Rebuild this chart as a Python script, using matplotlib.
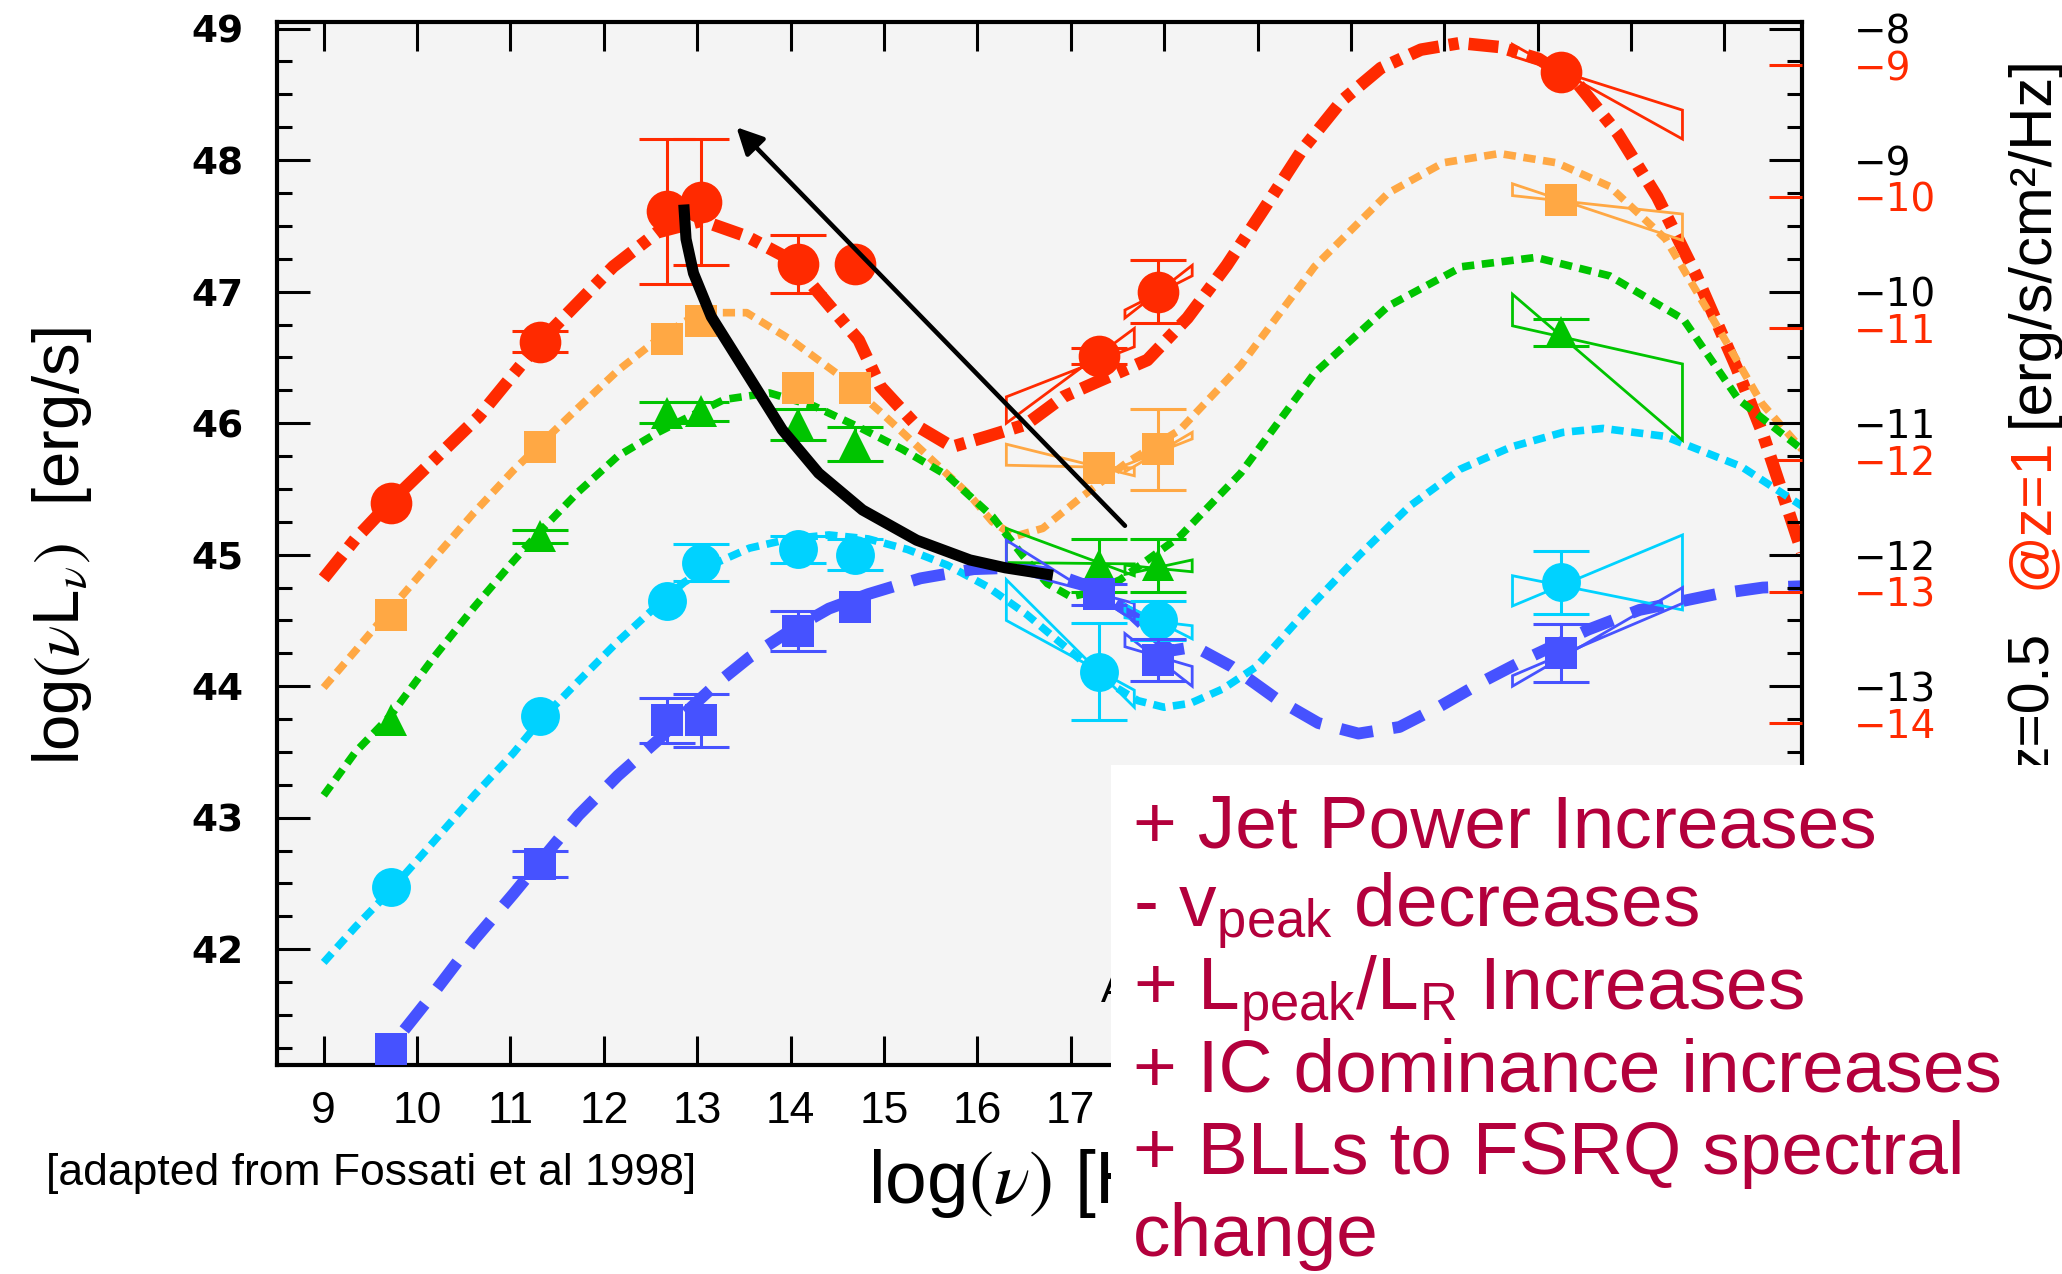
import numpy as np
import matplotlib
matplotlib.use("Agg")
import matplotlib.pyplot as plt
from matplotlib.patches import Rectangle, Polygon

plt.rcParams['font.family'] = ['Liberation Sans', 'DejaVu Sans']
plt.rcParams['mathtext.fontset'] = 'custom'
plt.rcParams['mathtext.rm'] = 'Liberation Sans'
plt.rcParams['mathtext.it'] = 'Liberation Sans:italic'

# observed bands, log(nu)
nu_obs = [9.72, 11.32, 12.68, 13.04, 14.08, 14.69, 17.30, 17.93, 22.25]

red_L = [45.39, 46.62, 47.61, 47.68, 47.21, 47.21, 46.51, 47.00, 48.67]
red_err = [0, 0.08, 0.55, 0.48, 0.22, 0, 0.06, 0.24, 0]
orange_L = [44.54, 45.82, 46.64, 46.78, 46.27, 46.27, 45.66, 45.80, 47.70]
orange_err = [0, 0, 0, 0, 0, 0, 0, 0.31, 0]
green_L = [43.74, 45.14, 46.08, 46.09, 45.99, 45.84, 44.92, 44.92, 46.69]
green_err = [0, 0.05, 0.08, 0.07, 0.12, 0.13, 0.20, 0.20, 0.10]
cyan_L = [42.47, 43.77, 44.65, 44.94, 45.04, 45.00, 44.11, 44.50, 44.79]
cyan_err = [0, 0, 0, 0.14, 0.10, 0.12, 0.37, 0.15, 0.24]
blue_L = [41.24, 42.65, 43.74, 43.74, 44.42, 44.60, 44.70, 44.20, 44.25]
blue_err = [0, 0.10, 0.17, 0.20, 0.15, 0, 0.08, 0.16, 0.22]

# model SED curves
red_x = [9.00, 9.34, 9.70, 10.18, 10.66, 11.33, 12.10, 12.57, 13.05, 13.53, 14.01, 14.30,
         14.73, 14.96, 15.35, 15.73, 16.11, 16.52, 16.92, 17.30, 17.82, 18.25, 18.67, 19.06,
         19.48, 19.90, 20.32, 20.75, 21.17, 21.59, 22.01, 22.44, 22.86, 23.28, 23.70, 24.13,
         24.41, 24.62, 24.83]
red_y = [44.82, 45.12, 45.39, 45.72, 46.05, 46.63, 47.19, 47.45, 47.54, 47.42, 47.24, 46.99,
         46.63, 46.28, 45.98, 45.82, 45.90, 45.99, 46.20, 46.32, 46.48, 46.80, 47.20, 47.62,
         48.08, 48.45, 48.70, 48.84, 48.89, 48.86, 48.77, 48.57, 48.20, 47.72, 47.12, 46.42,
         45.92, 45.47, 45.02]

orange_x = [9.00, 9.34, 9.72, 10.18, 10.61, 11.03, 11.32, 11.73, 12.15, 12.58, 12.86, 13.05,
            13.53, 14.01, 14.49, 14.97, 15.44, 15.92, 16.16, 16.40, 16.70, 17.10, 17.60, 18.17,
            18.82, 19.61, 20.40, 20.99, 21.59, 22.20, 22.77, 23.37, 23.96, 24.40, 24.83]
orange_y = [43.99, 44.27, 44.59, 44.97, 45.32, 45.64, 45.84, 46.12, 46.40, 46.64, 46.77, 46.84,
            46.84, 46.63, 46.38, 46.08, 45.77, 45.45, 45.25, 45.14, 45.20, 45.43, 45.70, 45.95,
            46.44, 47.19, 47.75, 47.98, 48.05, 47.98, 47.80, 47.40, 46.69, 46.15, 45.80]

green_x = [9.00, 9.34, 9.72, 10.18, 10.61, 11.03, 11.32, 11.73, 12.15, 12.58, 12.86, 13.29,
           13.77, 14.25, 14.73, 15.20, 15.68, 16.16, 16.50, 16.75, 17.00, 17.25, 17.53, 18.17,
           18.82, 19.61, 20.40, 21.19, 21.98, 22.77, 23.56, 24.15, 24.83]
green_y = [43.17, 43.50, 43.78, 44.22, 44.60, 44.95, 45.18, 45.48, 45.75, 45.93, 46.03, 46.18,
           46.23, 46.13, 45.97, 45.80, 45.60, 45.29, 44.98, 44.78, 44.68, 44.72, 44.81, 45.14,
           45.62, 46.38, 46.89, 47.19, 47.26, 47.12, 46.79, 46.18, 45.80]

cyan_x = [9.00, 9.34, 9.72, 10.18, 10.61, 11.03, 11.32, 11.73, 12.15, 12.58, 12.86, 13.21,
          13.56, 13.99, 14.41, 14.83, 15.25, 15.68, 16.10, 16.52, 16.94, 17.37, 17.72, 18.00,
          18.28, 18.63, 18.99, 19.53, 20.08, 20.63, 21.17, 21.72, 22.27, 22.70, 23.36, 24.18,
          24.83]
cyan_y = [41.90, 42.17, 42.45, 42.82, 43.17, 43.49, 43.74, 44.04, 44.34, 44.62, 44.79, 44.94,
          45.05, 45.12, 45.15, 45.12, 45.04, 44.92, 44.76, 44.55, 44.30, 44.04, 43.89, 43.84,
          43.87, 43.98, 44.15, 44.58, 44.99, 45.37, 45.65, 45.82, 45.93, 45.96, 45.90, 45.67,
          45.37]

blue_x = [9.55, 9.72, 10.18, 10.61, 11.03, 11.32, 11.73, 12.15, 12.58, 12.86, 13.21, 13.56,
          13.99, 14.41, 14.83, 15.39, 15.96, 16.38, 16.80, 17.23, 17.65, 18.07, 18.33, 18.72,
          19.21, 19.65, 20.08, 20.52, 20.96, 21.45, 21.94, 22.54, 23.09, 23.91, 24.41, 24.83]
blue_y = [41.05, 41.26, 41.67, 42.07, 42.42, 42.67, 43.02, 43.32, 43.59, 43.79, 44.02, 44.22,
          44.42, 44.59, 44.70, 44.82, 44.89, 44.90, 44.86, 44.75, 44.55, 44.27, 44.30, 44.15,
          43.90, 43.72, 43.64, 43.69, 43.85, 44.05, 44.23, 44.43, 44.58, 44.70, 44.75, 44.76]

# spectral bow-ties: (x_left, x_right, y_left1, y_right1, y_left2, y_right2)
red_bt = [(16.31, 17.68, 46.20, 46.58, 46.00, 46.72),
          (17.58, 18.30, 46.86, 47.12, 46.80, 47.20),
          (21.73, 23.55, 48.88, 48.16, 48.79, 48.38)]
orange_bt = [(16.31, 17.68, 45.84, 45.60, 45.68, 45.66),
             (17.58, 18.30, 45.68, 45.88, 45.63, 45.93),
             (21.73, 23.55, 47.82, 47.39, 47.73, 47.59)]
green_bt = [(16.31, 17.68, 45.20, 44.84, 44.94, 44.93),
            (17.58, 18.30, 44.92, 44.87, 44.85, 44.96),
            (21.73, 23.55, 46.98, 45.87, 46.74, 46.45)]
cyan_bt = [(16.31, 17.68, 44.81, 43.84, 44.50, 43.97),
           (17.58, 18.30, 44.62, 44.36, 44.52, 44.46),
           (21.73, 23.55, 44.84, 44.58, 44.61, 45.15)]
blue_bt = [(16.31, 17.68, 45.11, 44.50, 44.89, 44.63),
           (17.58, 18.30, 44.40, 44.00, 44.30, 44.15),
           (21.73, 23.55, 44.08, 44.63, 44.00, 44.75)]

# black trend curve and arrow
trend_x = [12.86, 12.88, 12.96, 13.15, 13.53, 13.91, 14.30, 14.77, 15.35, 15.92, 16.30, 16.75]
trend_y = [47.62, 47.40, 47.14, 46.81, 46.38, 45.95, 45.62, 45.34, 45.11, 44.96, 44.90, 44.85]
arrow_tail = (17.58, 45.22)
arrow_head = (13.42, 48.25)

x_ticks = list(range(9, 25))
x_ticklabels = [str(v) if v <= 17 else '' for v in x_ticks]
left_ticks = list(range(42, 50))
black_right_labels = ['\u2212%d' % (57 - v) if v >= 44 else '' for v in left_ticks]
red_right_pos = [48.72 - k for k in range(8)]
red_right_labels = ['\u2212%d' % (9 + k) if k <= 5 else '' for k in range(8)]

box_lines = ["+ Jet Power Increases",
             r"- v$_{\mathrm{peak}}$ decreases",
             r"+ L$_{\mathrm{peak}}$/L$_{\mathrm{R}}$ Increases",
             "+ IC dominance increases",
             "+ BLLs to FSRQ spectral",
             "change"]

RED = '#ff2a00'
ORANGE = '#ffa844'
GREEN = '#00c400'
CYAN = '#00d2ff'
BLUE = '#4652ff'

W, H = 2062, 1274
fig = plt.figure(figsize=(W / 100, H / 100), dpi=100)
ax = fig.add_axes([277 / W, 1 - 1065 / H, (1802 - 277) / W, (1065 - 22) / H])
ax.set_facecolor('#f4f4f4')
ax.set_xlim(8.5, 24.83)
ax.set_ylim(41.12, 49.05)

dots = (0, (1.6, 1.0))
ax.plot(red_x, red_y, color=RED, lw=9, ls=(0, (2.4, 0.8, 0.8, 0.8)), zorder=2)
ax.plot(orange_x, orange_y, color=ORANGE, lw=5.5, ls=dots, zorder=2)
ax.plot(green_x, green_y, color=GREEN, lw=5.5, ls=dots, zorder=2)
ax.plot(cyan_x, cyan_y, color=CYAN, lw=5.5, ls=dots, zorder=2)
ax.plot(blue_x, blue_y, color=BLUE, lw=8.5, ls=(0, (2.8, 1.7)), zorder=2)

series = [(red_L, red_err, RED, 'o', 30, red_bt),
          (orange_L, orange_err, ORANGE, 's', 23, orange_bt),
          (green_L, green_err, GREEN, '^', 23, green_bt),
          (cyan_L, cyan_err, CYAN, 'o', 28, cyan_bt),
          (blue_L, blue_err, BLUE, 's', 23, blue_bt)]

for L, err, col, mk, ms, bts in series:
    for (xl, xr, yl1, yr1, yl2, yr2) in bts:
        ax.add_patch(Polygon([(xl, yl1), (xr, yr1), (xr, yr2), (xl, yl2)], closed=True,
                             fill=False, edgecolor=col, lw=2, zorder=3))
    ex = [x for x, e in zip(nu_obs, err) if e > 0]
    ey = [y for y, e in zip(L, err) if e > 0]
    ee = [e for e in err if e > 0]
    ax.errorbar(ex, ey, yerr=ee, fmt='none', ecolor=col, elinewidth=2.2, capsize=20,
                capthick=2.2, zorder=4)
    ax.plot(nu_obs, L, ls='none', marker=mk, ms=ms, color=col, mew=0, zorder=4)

ax.plot(trend_x, trend_y, color='k', lw=8, zorder=5)
ax.annotate('', xy=arrow_head, xytext=arrow_tail,
            arrowprops=dict(arrowstyle='-|>', lw=3.3, color='k', mutation_scale=40,
                            shrinkA=0, shrinkB=0), zorder=5)

for s in ax.spines.values():
    s.set_linewidth(3)

ax.set_xticks(x_ticks)
ax.set_xticklabels(x_ticklabels)
ax.tick_params(axis='x', direction='in', length=21, width=2.2, top=True, pad=19, labelsize=32)
ax.set_yticks(left_ticks)
ax.set_yticks(np.arange(41.25, 49.01, 0.25), minor=True)
ax.tick_params(axis='y', which='major', direction='in', length=24, width=2.2, pad=24)
ax.tick_params(axis='y', which='minor', direction='in', length=11, width=2.2)
ax.tick_params(axis='x', which='minor', bottom=False, top=False)
for lbl in ax.get_yticklabels():
    lbl.set_fontfamily('DejaVu Sans')
    lbl.set_fontweight('bold')
    lbl.set_fontsize(27)

# red right scale (z=1)
axr = ax.twinx()
axr.set_ylim(ax.get_ylim())
axr.set_yticks(red_right_pos)
axr.set_yticklabels(red_right_labels)
axr.tick_params(axis='y', direction='in', length=24, width=2.2, color=RED, labelcolor=RED,
                pad=37, labelsize=28, labelfontfamily='DejaVu Sans')
axr.tick_params(axis='y', which='minor', right=False)
for s in axr.spines.values():
    s.set_visible(False)

# black right scale (z=0.5)
axb = ax.twinx()
axb.set_ylim(ax.get_ylim())
axb.set_yticks(left_ticks)
axb.set_yticklabels(black_right_labels)
axb.set_yticks(np.arange(41.25, 49.01, 0.25), minor=True)
axb.tick_params(axis='y', which='major', direction='in', length=24, width=2.2, pad=37,
                labelsize=28, labelfontfamily='DejaVu Sans')
axb.tick_params(axis='y', which='minor', direction='in', length=11, width=2.2)
for s in axb.spines.values():
    s.set_visible(False)

# axis titles
fig.text(62 / W, 1 - 546 / H, r'log$(\nu$L$_{\nu})$  [erg/s]', rotation=90, ha='center',
         va='center', fontsize=47, math_fontfamily='stix')
fig.text(868 / W, 1 - 1183 / H, r'log$(\nu)$ [Hz]', ha='left', va='center', fontsize=54,
         math_fontfamily='stix')
fig.text(46 / W, 1 - 1174 / H, '[adapted from Fossati et al 1998]', ha='left', va='center',
         fontsize=32)
fig.text(2032 / W, 1 - 772 / H, 'z=0.5', rotation=90, ha='center', va='bottom', fontsize=41)
fig.text(2032 / W, 1 - 589 / H, '@z=1', rotation=90, ha='center', va='bottom', fontsize=41,
         color=RED)
fig.text(2032 / W, 1 - 427 / H, '[erg/s/cm\u00b2/Hz]', rotation=90, ha='center', va='bottom',
         fontsize=43)
fig.text(1101 / W, 1 - 1002 / H, 'A', ha='left', va='baseline', fontsize=29, zorder=5)

# white annotation box
fig.add_artist(Rectangle((1111 / W, 0), 1 - 1111 / W, 1 - 765 / H, transform=fig.transFigure,
                         facecolor='white', edgecolor='none', zorder=10))
baselines = [848, 927, 1010, 1091, 1174, 1256]
for txt, yb in zip(box_lines, baselines):
    fig.text(1133 / W, 1 - yb / H, txt, ha='left', va='baseline', fontsize=54,
             color='#b3003c', zorder=11)

fig.savefig('out.png', dpi=100)
